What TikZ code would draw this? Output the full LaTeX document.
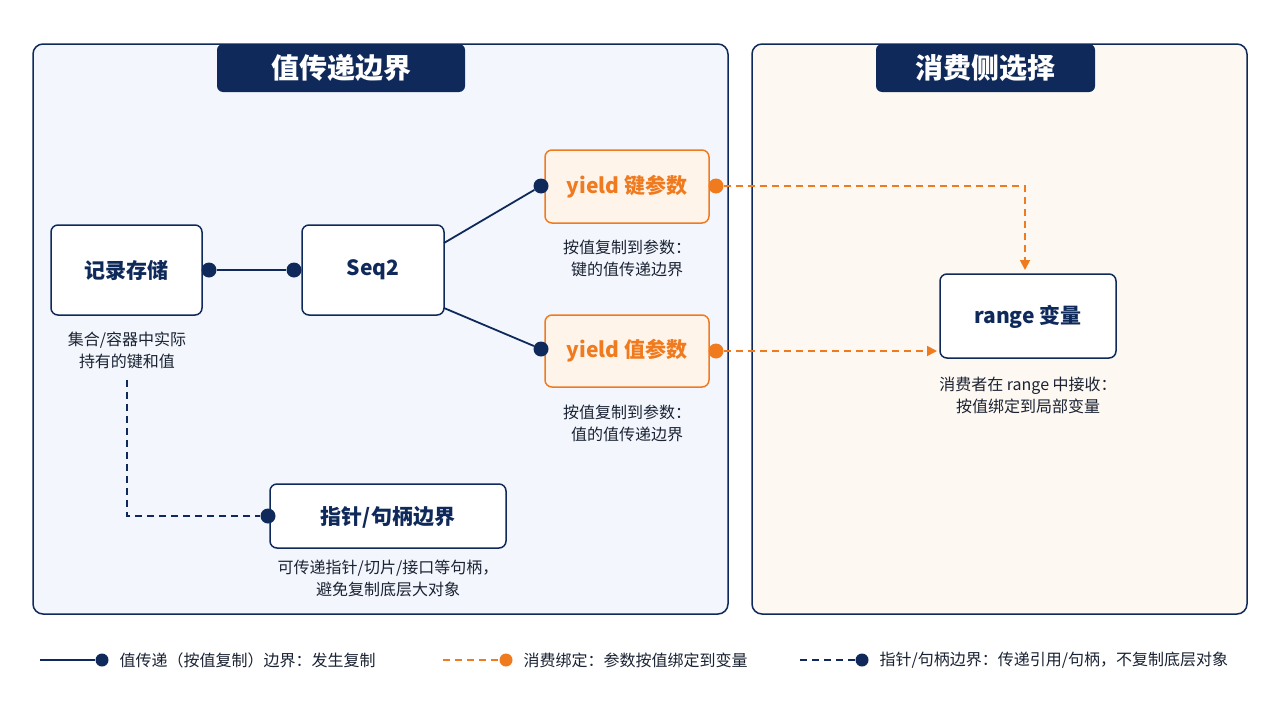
\documentclass[tikz,border=0pt]{standalone}
\usepackage{fontspec}
\setmainfont{Noto Sans CJK SC}
\usetikzlibrary{arrows.meta}
\definecolor{navy}{HTML}{0F2A5A}
\definecolor{org}{HTML}{F07A1E}
\definecolor{lb}{HTML}{F3F7FD}
\definecolor{lo}{HTML}{FDF8F1}
\definecolor{of}{HTML}{FFF4EA}
\definecolor{txt}{HTML}{1A2233}
\begin{document}
\begin{tikzpicture}[x=1pt,y=-1pt,
 panel/.style={draw=navy,line width=1.5pt,rounded corners=10pt},
 tab/.style={fill=navy,rounded corners=6pt},
 tabt/.style={text=white,font=\bfseries\fontsize{28}{30}\selectfont},
 box/.style={draw=navy,line width=1.5pt,fill=white,rounded corners=7pt},
 obox/.style={draw=org,line width=1.5pt,fill=of,rounded corners=7pt},
 bt/.style={text=navy,font=\bfseries\fontsize{21}{24}\selectfont},
 ot/.style={text=org,font=\bfseries\fontsize{21}{24}\selectfont},
 lab/.style={text=txt,font=\fontsize{16}{22}\selectfont,align=center},
 dotn/.style={circle,fill=navy,inner sep=0pt,minimum size=15pt},
 doto/.style={circle,fill=org,inner sep=0pt,minimum size=15pt},
 sl/.style={draw=navy,line width=1.8pt},
 dl/.style={draw=navy,line width=1.8pt,dash pattern=on 7pt off 5pt},
 ol/.style={draw=org,line width=1.8pt,dash pattern=on 7pt off 5pt},
 arr/.style={-{Triangle[length=10pt,width=10pt]}}]
\useasboundingbox (0,0) rectangle (1280,720);
\fill[white] (0,0) rectangle (1280,720);
\draw[panel,fill=lb] (33,44) rectangle (728,614);
\draw[panel,fill=lo] (752,44) rectangle (1247,614);
\fill[tab] (217,44) rectangle (465,92);
\node[tabt] (t1) at (341,68) {值传递边界};
\fill[tab] (876,44) rectangle (1095,92);
\node[tabt] (t2) at (985,68) {消费侧选择};
% boxes
\draw[box] (51,225) rectangle (202,315); \node[bt] (rec) at (126,270) {记录存储};
\draw[box] (302,225) rectangle (444,315); \node[bt] (seq) at (373,270) {Seq2};
\draw[obox] (545,150) rectangle (709,223); \node[ot] (yk) at (627,187) {yield 键参数};
\draw[obox] (545,315) rectangle (709,387); \node[ot] (yv) at (627,351) {yield 值参数};
\draw[box] (940,274) rectangle (1116,358); \node[bt] (rv) at (1028,317) {range 变量};
\draw[box] (270,484) rectangle (506,548); \node[bt] (ptr) at (388,517) {指针/句柄边界};
% labels
\node[lab] (l1) at (127,350) {集合/容器中实际\\持有的键和值};
\node[lab] (l2) at (627,258) {按值复制到参数：\\键的值传递边界};
\node[lab] (l3) at (627,423) {按值复制到参数：\\值的值传递边界};
\node[lab] (l4) at (1028,395) {消费者在 range 中接收：\\按值绑定到局部变量};
\node[lab] (l5) at (388,578) {可传递指针/切片/接口等句柄，\\避免复制底层大对象};
% connectors
\node[dotn] (d1) at (209,270) {};
\node[dotn] (d2) at (294,270) {};
\node[dotn] (d3) at (541,186) {};
\node[dotn] (d4) at (541,349) {};
\node[doto] (d5) at (716,186) {};
\node[doto] (d6) at (716,351) {};
\node[dotn] (d7) at (268,516) {};
\coordinate (c1) at (1025,186);
\coordinate (c2) at (127,380);
\coordinate (c3) at (127,516);
\path[sl] (d1) -- (d2);
\path[sl] (444,243) -- (d3);
\path[sl] (444,308) -- (d4);
\path[ol,arr] (d5) -- (c1) -- (1025,270);
\path[ol,arr] (d6) -- (937,351);
\path[dl] (c2) -- (c3) -- (d7);
% legend
\coordinate (g1) at (40,660);
\node[dotn,minimum size=13pt] (g1d) at (102,660) {};
\path[sl] (g1) -- (g1d);
\node[lab,anchor=west] (g1t) at (116,660) {值传递（按值复制）边界：发生复制};
\coordinate (g2) at (443,660);
\node[doto,minimum size=13pt] (g2d) at (506,660) {};
\path[ol] (g2) -- (g2d);
\node[lab,anchor=west] (g2t) at (520,660) {消费绑定：参数按值绑定到变量};
\coordinate (g3) at (800,660);
\node[dotn,minimum size=13pt] (g3d) at (862,660) {};
\path[dl] (g3) -- (g3d);
\node[lab,anchor=west] (g3t) at (876,660) {指针/句柄边界：传递引用/句柄，不复制底层对象};
\end{tikzpicture}
\end{document}
